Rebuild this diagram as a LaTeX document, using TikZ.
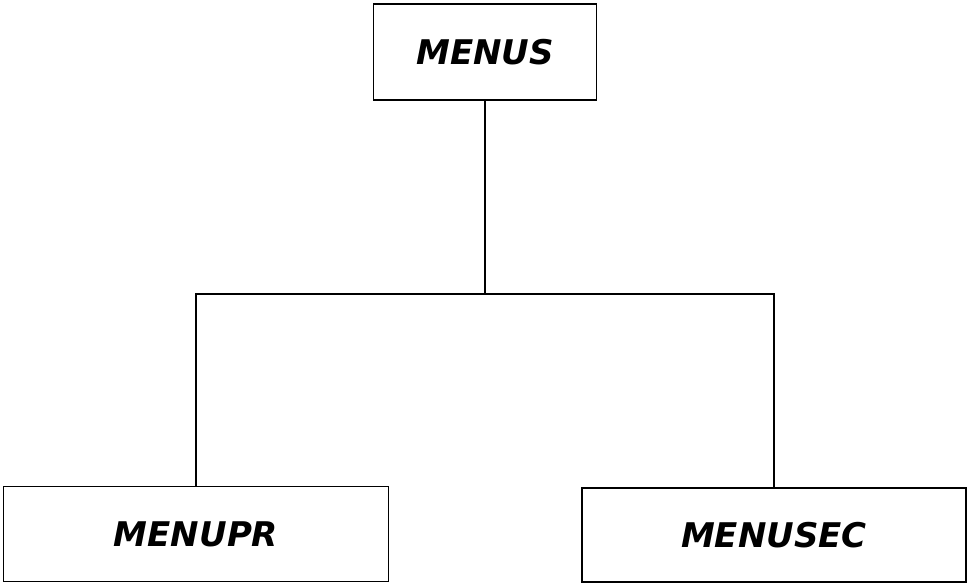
\documentclass[tikz,border=0pt]{standalone}
\usepackage{fontspec}
\setmainfont{DejaVu Sans}
\usepackage{tikz}
\usetikzlibrary{positioning}

\begin{document}
\begin{tikzpicture}[x=1pt, y=-1pt, line width=1.8pt,
        menu/.style = {draw, rectangle, inner sep=0pt,
            font=\fontsize{34}{40}\selectfont\bfseries\itshape}]
            \useasboundingbox (0,0) rectangle (967,584);

            \node[menu, minimum width=223pt, minimum height=96pt] (MENUS) at (485,52) {MENUS};
            \node[menu, minimum width=385pt, minimum height=95pt] (MENUPR) at (196,534) {MENUPR};
            \node[menu, minimum width=384pt, minimum height=94pt] (MENUSEC) at (774,535) {MENUSEC};

            \coordinate (split) at (MENUS.south |- 0,294);

            \draw (MENUS.south) -- (split);
            \draw (split) -| (MENUPR.north);
            \draw (split) -| (MENUSEC.north);
        \end{tikzpicture}
\end{document}
